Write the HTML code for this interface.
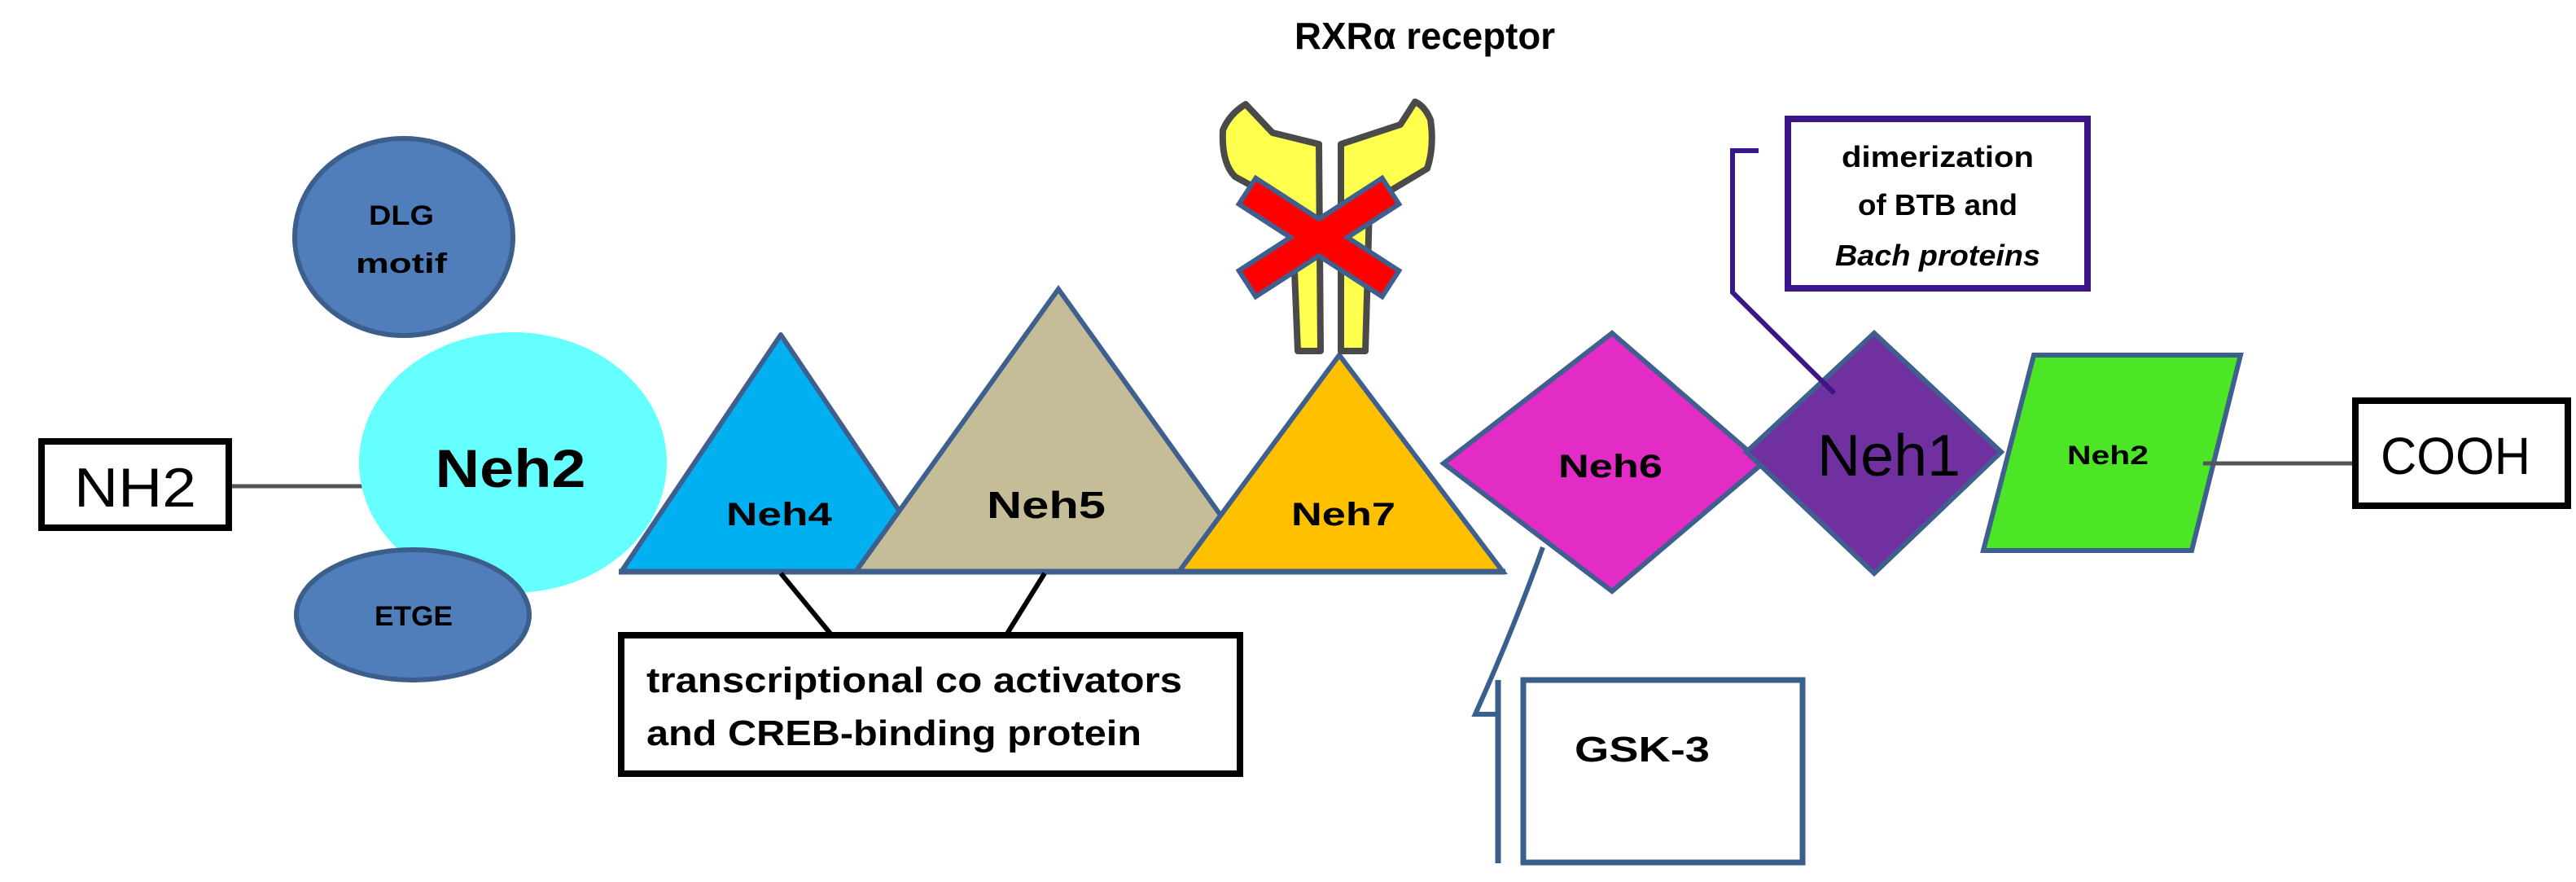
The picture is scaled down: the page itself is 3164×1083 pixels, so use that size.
<!DOCTYPE html>
<html><head><meta charset="utf-8"><style>
html,body{margin:0;padding:0;background:#fff;}
svg{display:block;}
text{font-family:"Liberation Sans",sans-serif;fill:#000;}
</style></head><body>
<svg width="3164" height="1083" viewBox="0 0 3164 1083" xmlns="http://www.w3.org/2000/svg">
<text x="1750" y="60" font-size="46" font-weight="bold" text-anchor="middle" textLength="320" lengthAdjust="spacingAndGlyphs">RXRα receptor</text>

<line x1="285" y1="597" x2="445" y2="597" stroke="#555" stroke-width="5"/>
<rect x="51" y="542" width="230" height="106" fill="#fff" stroke="#000" stroke-width="8"/>
<text x="166" y="622" font-size="68" text-anchor="middle" textLength="150" lengthAdjust="spacingAndGlyphs">NH2</text>

<ellipse cx="496" cy="291" rx="134" ry="121" fill="#4F7EBA" stroke="#3C5E8C" stroke-width="6"/>
<text x="493" y="276" font-size="34" font-weight="bold" text-anchor="middle" textLength="80" lengthAdjust="spacingAndGlyphs">DLG</text>
<text x="493" y="335" font-size="34" font-weight="bold" text-anchor="middle" textLength="112" lengthAdjust="spacingAndGlyphs">motif</text>
<ellipse cx="630" cy="568" rx="189" ry="160" fill="#66FFFF"/>
<ellipse cx="507" cy="755" rx="143" ry="80" fill="#4F7EBA" stroke="#3C5E8C" stroke-width="6"/>
<text x="508" y="768" font-size="34" font-weight="bold" text-anchor="middle" textLength="96" lengthAdjust="spacingAndGlyphs">ETGE</text>
<text x="627" y="598" font-size="66" font-weight="bold" text-anchor="middle" textLength="185" lengthAdjust="spacingAndGlyphs">Neh2</text>

<polygon points="959,411 763,702 1155,702" fill="#00B0F0" stroke="#3F5F8F" stroke-width="6" stroke-linejoin="round"/>
<polygon points="1300,355 1051,702 1549,702" fill="#C4BD97" stroke="#3F5F8F" stroke-width="6"/>
<polygon points="1645,436 1448,702 1846,702" fill="#FFC000" stroke="#3F5F8F" stroke-width="6"/>
<line x1="760" y1="702" x2="1849" y2="702" stroke="#3F5F8F" stroke-width="7"/>
<text x="957" y="645" font-size="40" font-weight="bold" text-anchor="middle" textLength="130" lengthAdjust="spacingAndGlyphs">Neh4</text>
<text x="1285" y="636" font-size="46" font-weight="bold" text-anchor="middle" textLength="146" lengthAdjust="spacingAndGlyphs">Neh5</text>
<text x="1650" y="645" font-size="40" font-weight="bold" text-anchor="middle" textLength="128" lengthAdjust="spacingAndGlyphs">Neh7</text>

<g stroke="#4A4A4A" stroke-width="8" fill="#FFFF4D" stroke-linejoin="round">
<path d="M1530,128 L1563,163 L1620,177 L1622,431 L1594,431 L1590,333 L1590,257 L1517,217 Q1500,200 1502,160 Q1510,140 1530,128 Z"/>
<path d="M1738,125 L1720,153 L1647,177 L1647,431 L1677,431 L1680,330 L1682,250 L1693,243 L1753,207 Q1762,180 1757,147 Q1750,130 1738,125 Z"/>
</g>
<g stroke-linecap="square">
<line x1="1548" y1="245" x2="1692" y2="338" stroke="#3F5F8F" stroke-width="44"/>
<line x1="1692" y1="245" x2="1548" y2="338" stroke="#3F5F8F" stroke-width="44"/>
<line x1="1548" y1="245" x2="1692" y2="338" stroke="#FF0000" stroke-width="32"/>
<line x1="1692" y1="245" x2="1548" y2="338" stroke="#FF0000" stroke-width="32"/>
</g>

<polygon points="1980,409 1773,569 1980,726 2165,569" fill="#E32BC6" stroke="#3F5F8F" stroke-width="6"/>
<text x="1978" y="586" font-size="40" font-weight="bold" text-anchor="middle" textLength="128" lengthAdjust="spacingAndGlyphs">Neh6</text>
<polygon points="2302,409 2145,555 2302,704 2458,555" fill="#7030A0" stroke="#3F5F8F" stroke-width="6"/>
<text x="2320" y="584" font-size="72" text-anchor="middle" textLength="176" lengthAdjust="spacingAndGlyphs">Neh1</text>
<polygon points="2498,436 2752,436 2692,676 2436,676" fill="#4CE626" stroke="#3F5F8F" stroke-width="6"/>
<text x="2589" y="570" font-size="32" font-weight="bold" text-anchor="middle" textLength="100" lengthAdjust="spacingAndGlyphs">Neh2</text>
<line x1="2706" y1="569" x2="2893" y2="569" stroke="#555" stroke-width="5"/>
<rect x="2893" y="492" width="261" height="129" fill="#fff" stroke="#000" stroke-width="8"/>
<text x="3016" y="582" font-size="64" text-anchor="middle" textLength="184" lengthAdjust="spacingAndGlyphs">COOH</text>

<polyline points="2160,185 2128,185 2128,359 2253,483" fill="none" stroke="#3A1688" stroke-width="6"/>
<rect x="2196" y="146" width="368" height="208" fill="#fff" stroke="#3A1688" stroke-width="8"/>
<text x="2380" y="205" font-size="36" font-weight="bold" text-anchor="middle" textLength="236" lengthAdjust="spacingAndGlyphs">dimerization</text>
<text x="2380" y="264" font-size="36" font-weight="bold" text-anchor="middle" textLength="196" lengthAdjust="spacingAndGlyphs">of BTB and</text>
<text x="2380" y="326" font-size="36" font-weight="bold" font-style="italic" text-anchor="middle" textLength="252" lengthAdjust="spacingAndGlyphs">Bach proteins</text>

<path d="M1895,672 Q1860,770 1812,877 L1840,877" fill="none" stroke="#3A5F8C" stroke-width="6"/>
<line x1="1840" y1="835" x2="1840" y2="1060" stroke="#3A5F8C" stroke-width="7"/>
<rect x="1871" y="835" width="343" height="224" fill="#fff" stroke="#3A5F8C" stroke-width="7"/>
<text x="1934" y="935" font-size="44" font-weight="bold" textLength="166" lengthAdjust="spacingAndGlyphs">GSK-3</text>

<line x1="959" y1="704" x2="1020" y2="778" stroke="#000" stroke-width="6"/>
<line x1="1283" y1="704" x2="1237" y2="778" stroke="#000" stroke-width="6"/>
<rect x="763" y="780" width="760" height="170" fill="#fff" stroke="#000" stroke-width="8"/>
<text x="794" y="850" font-size="44" font-weight="bold" textLength="658" lengthAdjust="spacingAndGlyphs">transcriptional co activators</text>
<text x="794" y="915" font-size="44" font-weight="bold" textLength="608" lengthAdjust="spacingAndGlyphs">and CREB-binding protein</text>
</svg>
</body></html>
